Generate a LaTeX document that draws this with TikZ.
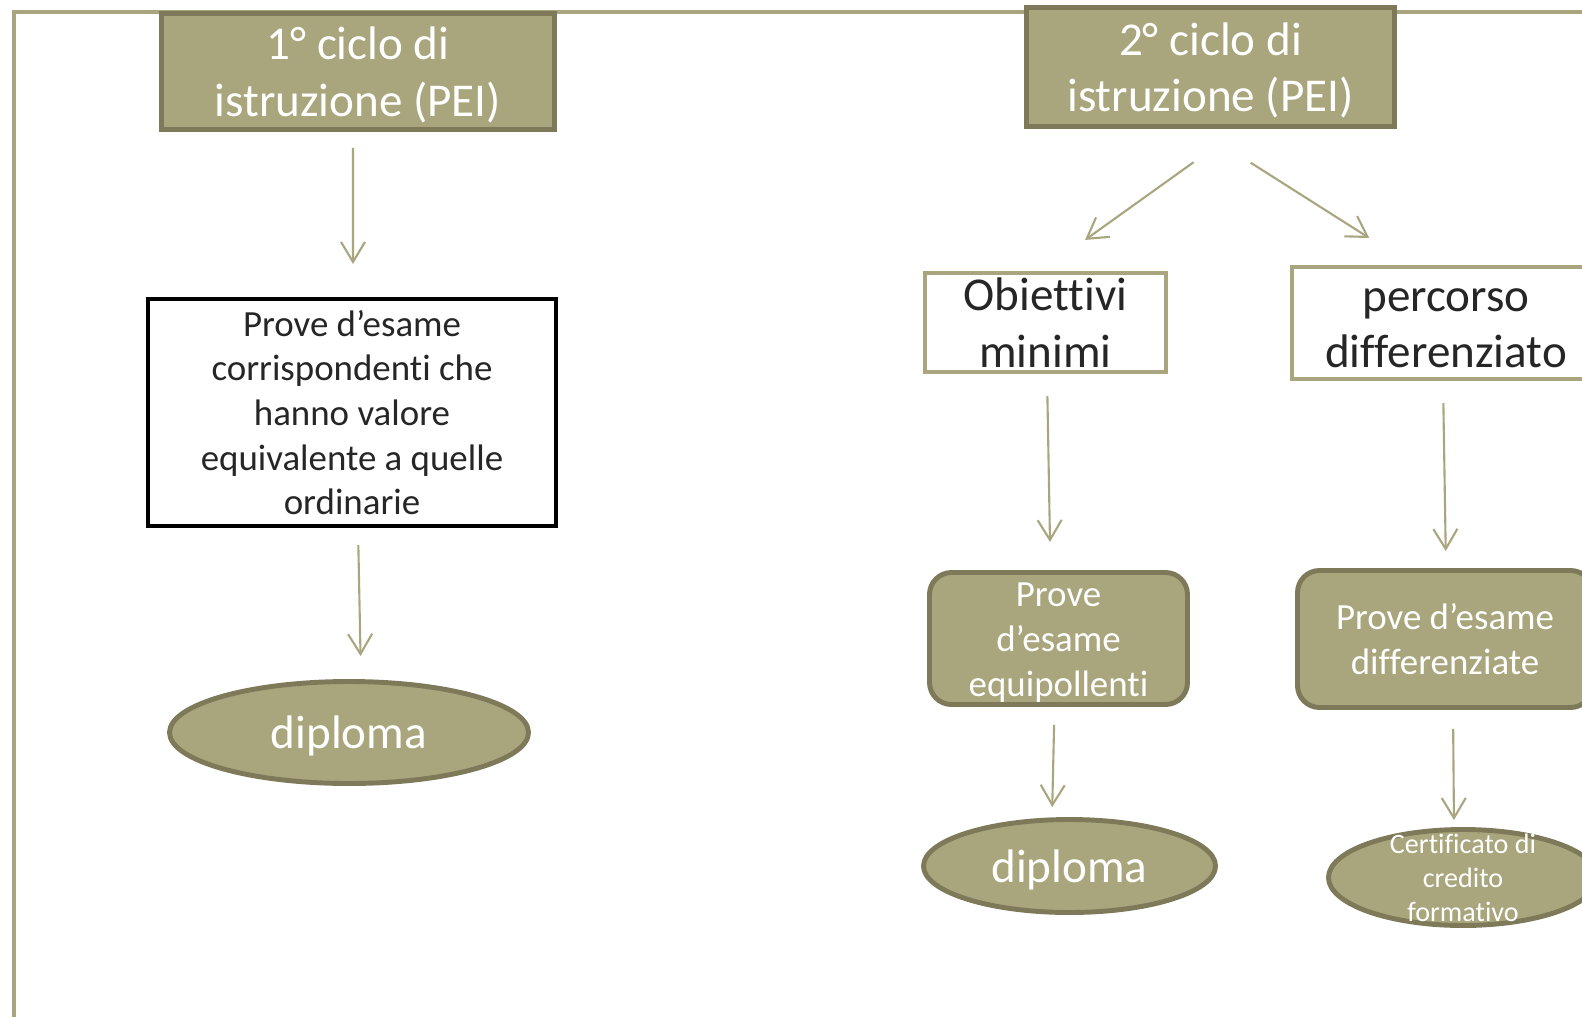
\documentclass[tikz,border=0pt]{standalone}
\usepackage{fontspec}
\setmainfont{Carlito}[Ligatures={NoCommon,NoContextual}, Contextuals=NoAlternate]
\usetikzlibrary{arrows.meta, shapes.geometric, positioning}
\definecolor{olivefill}{RGB}{169,165,124}
\definecolor{olivedark}{RGB}{126,122,89}
\definecolor{oliveline}{RGB}{169,166,127}
\definecolor{inkdark}{RGB}{38,38,38}
\newcommand\topstrut{\rule{0pt}{1.1em}}
\newcommand\botstrut{\rule[-0.4em]{0pt}{0.4em}}

\begin{document}
\begin{tikzpicture}[
      every node/.style={execute at begin node=\topstrut, execute at end node=\botstrut},
      cyclebox/.style={draw=olivedark, line width=1.4pt, fill=olivefill, text=white,
                       inner sep=0, inner ysep=-0.3cm, align=flush center,
                       font=\fontsize{13.4}{16.2}\selectfont},
      plainbox/.style={draw=black, line width=1.15pt, fill=white, text=inkdark,
                       inner sep=0, inner ysep=-0.3cm, align=flush center,
                       font=\fontsize{10.5}{12.7}\selectfont},
      goalbox/.style={draw=oliveline, line width=1.25pt, fill=white, text=inkdark,
                      inner sep=0, inner ysep=-0.3cm, align=flush center,
                      font=\fontsize{13.4}{16.2}\selectfont},
      exambox/.style={draw=olivedark, line width=1.4pt, fill=olivefill, text=white,
                      rounded corners=0.22cm, inner sep=0, inner ysep=-0.3cm,
                      align=flush center, font=\fontsize{10.5}{12.7}\selectfont},
      endoval/.style={ellipse, draw=olivedark, line width=1.4pt, fill=olivefill, text=white,
                      inner sep=0, inner ysep=-0.3cm, align=flush center, text width=1.8cm,
                      font=\fontsize{13.4}{16.2}\selectfont},
      link/.style={-{Straight Barb[length=2mm, width=2.4mm]}, oliveline, line width=0.6pt},
    ]

    \useasboundingbox (0,0) rectangle (15.82,-10.16);
    \clip (0,0) rectangle (15.82,-10.16);

    % Frame
    \draw[oliveline, line width=1.1pt] (0.14,-10.3) -- (0.14,-0.12) -- (15.9,-0.12);

    % ---- LEFT: first cycle ----
    \node[cyclebox, text width=3.93cm, minimum height=1.16cm] (cycle1) at (3.58,-0.715)
      {1° ciclo di\\istruzione (PEI)};
    \node[plainbox, text width=4.08cm, minimum height=2.27cm] (corr) at (3.52,-4.125)
      {Prove d’esame\\corrispondenti che\\hanno valore\\equivalente a quelle\\ordinarie};
    \node[endoval, minimum width=3.59cm, minimum height=1.02cm] (dipl1) at (3.49,-7.325) {diploma};

    \draw[link, shorten <=0.16cm, shorten >=0.33cm]
      ([xshift=-0.05cm]cycle1.south) -- ([xshift=0.01cm]corr.north);
    \draw[link, shorten <=0.17cm, shorten >=0.23cm]
      ([xshift=0.06cm]corr.south) -- ([xshift=0.12cm]dipl1.north);

    % ---- RIGHT: second cycle ----
    \node[cyclebox, text width=3.68cm, minimum height=1.19cm] (cycle2) at (12.105,-0.67)
      {2° ciclo di\\istruzione (PEI)};
    \node[goalbox, text width=2.41cm, minimum height=0.99cm] (goal) at (10.455,-3.225)
      {Obiettivi\\minimi};
    \node[goalbox, text width=3.08cm, minimum height=1.12cm] (route) at (14.46,-3.23)
      {percorso\\differenziato};
    \node[exambox, text width=2.58cm, minimum height=1.32cm] (equip) at (10.585,-6.385)
      {Prove\\d’esame\\equipollenti};
    \node[exambox, text width=2.95cm, minimum height=1.37cm] (diff) at (14.45,-6.39)
      {Prove d’esame\\differenziate};
    \node[endoval, minimum width=2.92cm, minimum height=0.93cm] (dipl2) at (10.695,-8.66) {diploma};
    \node[endoval, minimum width=2.69cm, minimum height=0.96cm] (cert) at (14.63,-8.775) {};
    \node[text=white, align=flush center, text width=2.4cm, inner sep=0,
          font=\fontsize{8}{9.7}\selectfont] (certtext)
      at (cert.center) {Certificato di\\credito\\formativo};

    % Arrows
    \draw[link, shorten <=0.57cm, shorten >=0.53cm]
      ([xshift=0.295cm]cycle2.south) -- ([xshift=-0.035cm]goal.north);
    \draw[link, shorten <=0.63cm, shorten >=0.5cm]
      ([xshift=-0.13cm]cycle2.south) -- ([xshift=-0.345cm]route.north);
    \draw[link, shorten <=0.22cm, shorten >=0.28cm]
      ([xshift=0.015cm]goal.south) -- ([xshift=-0.08cm]equip.north);
    \draw[link, shorten <=0.22cm, shorten >=0.17cm]
      ([xshift=-0.03cm]route.south) -- ([xshift=0.01cm]diff.north);
    \draw[link, shorten <=0.18cm, shorten >=0.10cm]
      ([xshift=-0.04cm]equip.south) -- ([xshift=-0.175cm]dipl2.north);
    \draw[link, shorten <=0.19cm, shorten >=0.07cm]
      ([xshift=0.08cm]diff.south) -- ([xshift=-0.09cm]cert.north);

  \end{tikzpicture}
\end{document}
